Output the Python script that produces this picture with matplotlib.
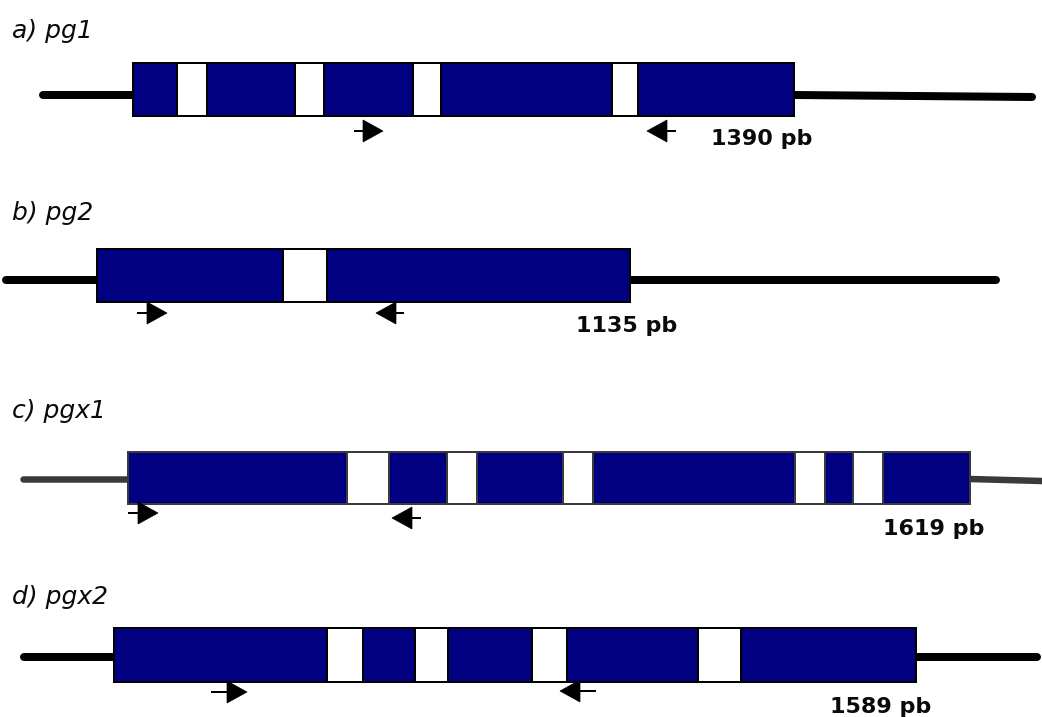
import matplotlib
matplotlib.use("Agg")
import matplotlib.pyplot as plt
from matplotlib.patches import Rectangle, Polygon

# ---- data (drawing units: x along the gene map, y rows from top) ----
gene_names = ["a) pg1", "b) pg2", "c) pgx1", "d) pgx2"]
size_labels = ["1390 pb", "1135 pb", "1619 pb", "1589 pb"]

name_pos = [(12, 38), (12, 220), (12, 418), (12, 604)]          # baseline positions
size_pos = [(711, 145), (576, 332), (883, 535), (830, 713)]      # baseline positions

box_x = [(133, 794), (97, 630), (128, 970), (114, 916)]
box_y = [(63, 116), (249, 302), (452, 504), (628, 682)]

left_flank = [((43, 95), (133, 95)), ((6, 280), (97, 280)),
              ((23, 479), (128, 479)), ((24, 657), (114, 657))]
right_flank = [((794, 95), (1032, 97)), ((630, 280), (996, 280)),
               ((970, 479), (1042, 481)), ((916, 657), (1037, 657))]
flank_colors = ["black", "black", "#3a3a3a", "black"]
flank_widths = [8, 8, 6.5, 8]
edge_colors = ["black", "black", "#3a3a3a", "black"]

introns = [
    [(177, 207), (295, 324), (413, 441), (612, 638)],
    [(283, 327)],
    [(347, 389), (447, 477), (563, 593), (795, 825), (853, 883)],
    [(327, 363), (415, 448), (532, 567), (698, 741)],
]

fwd_primer = [(354, 383, 131), (137, 167, 313), (128, 158, 513), (211, 247, 692)]
rev_primer = [(647, 676, 131), (376, 404, 313), (392, 421, 518), (560, 596, 691)]

exon_color = "#000080"

W, H = 1042, 717
fig = plt.figure(figsize=(W / 100, H / 100), dpi=100)
ax = fig.add_axes([0, 0, 1, 1])
ax.set_xlim(0, W)
ax.set_ylim(H, 0)
ax.axis("off")

px = 72 / 100  # points per pixel


def arrow(x0, x1, y, forward):
    head_len, head_h = 20, 22
    if forward:
        tip, base, tail = x1, x1 - head_len, x0
    else:
        tip, base, tail = x0, x0 + head_len, x1
    ax.plot([tail, base], [y, y], color="black", lw=2 * px, solid_capstyle="butt", zorder=5)
    ax.add_patch(Polygon([(tip, y), (base, y - head_h / 2), (base, y + head_h / 2)],
                         closed=True, facecolor="black", edgecolor="black", lw=0.5, zorder=5))


for i in range(4):
    # flanking lines
    for seg in (left_flank[i], right_flank[i]):
        (xa, ya), (xb, yb) = seg
        ax.plot([xa, xb], [ya, yb], color=flank_colors[i], lw=flank_widths[i] * px,
                solid_capstyle="round", zorder=1)
    # exon box
    x0, x1 = box_x[i]
    y0, y1 = box_y[i]
    ax.add_patch(Rectangle((x0, y0), x1 - x0, y1 - y0, facecolor=exon_color,
                           edgecolor=edge_colors[i], lw=2 * px, zorder=2))
    # introns
    for a, b in introns[i]:
        ax.add_patch(Rectangle((a, y0), b - a, y1 - y0, facecolor="white",
                               edgecolor=edge_colors[i], lw=2 * px, zorder=3))
    # primers
    arrow(*fwd_primer[i][:2], fwd_primer[i][2], True)
    arrow(*rev_primer[i][:2], rev_primer[i][2], False)
    # labels
    ax.text(name_pos[i][0], name_pos[i][1], gene_names[i], fontsize=18, style="italic",
            fontweight="medium", family="DejaVu Sans", va="baseline", ha="left",
            color="#0a0a0a")
    ax.text(size_pos[i][0], size_pos[i][1], size_labels[i], fontsize=16, fontweight="bold",
            family="DejaVu Sans", va="baseline", ha="left", color="#0a0a0a")

fig.savefig("out.png", dpi=100)
